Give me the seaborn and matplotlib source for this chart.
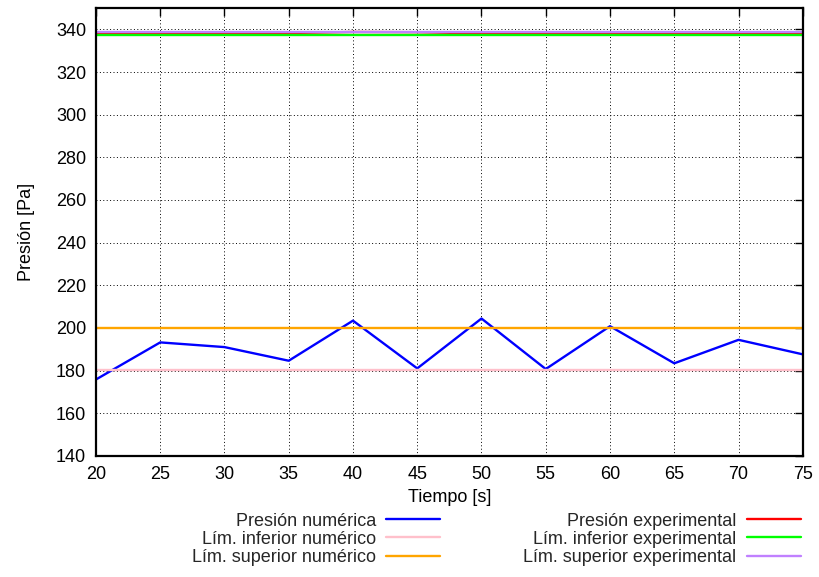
import matplotlib
matplotlib.use("Agg")
import matplotlib.pyplot as plt
import seaborn as sns
import pandas as pd

# Time samples [s]
tiempo = [20, 25, 30, 35, 40, 45, 50, 55, 60, 65, 70, 75]

# Numerical pressure and its bounds [Pa]
presion_numerica = [175.8, 193.2, 191.0, 184.6, 203.4, 181.0, 204.4, 180.7, 200.8, 183.4, 194.4, 187.6]
lim_inf_numerico = [180.3] * len(tiempo)
lim_sup_numerico = [199.8] * len(tiempo)

# Experimental pressure and its bounds [Pa]
presion_experimental = [338.3, 338.0, 337.8, 338.3, 338.8, 338.7, 338.1, 337.8, 338.0, 338.1, 338.1, 337.9]
lim_inf_experimental = [337.2] * len(tiempo)
lim_sup_experimental = [339.0] * len(tiempo)

series = [
    ("Presión numérica", presion_numerica, "#0000ff"),
    ("Lím. inferior numérico", lim_inf_numerico, "#ffc0cb"),
    ("Lím. superior numérico", lim_sup_numerico, "#ffa500"),
    ("Presión experimental", presion_experimental, "#ff0000"),
    ("Lím. inferior experimental", lim_inf_experimental, "#00ff00"),
    ("Lím. superior experimental", lim_sup_experimental, "#c080ff"),
]

FS = 13

sns.set_theme(style="white")
plt.rcParams["font.family"] = ["Liberation Sans", "DejaVu Sans"]
plt.rcParams["font.size"] = FS

fig = plt.figure(figsize=(8.2, 5.77), dpi=100)
ax = fig.add_axes([0.117, 0.21, 0.862, 0.776])

for label, values, color in series:
    df = pd.DataFrame({"t": tiempo, "p": values})
    sns.lineplot(data=df, x="t", y="p", ax=ax, color=color, linewidth=1.7,
                 label=label, legend=False)

ax.set_xlim(20, 75)
ax.set_ylim(140, 350)
ax.set_xticks(range(20, 76, 5))
ax.set_yticks(range(140, 341, 20))
ax.tick_params(axis="both", which="major", direction="in", length=6, width=1.0,
               labelsize=FS, colors="black", top=True, right=True, pad=7,
               labelcolor="black")
ax.grid(True, color="black", linestyle=(0, (1, 2.5)), linewidth=0.7)
for s in ax.spines.values():
    s.set_color("black")
    s.set_linewidth(1.6)

ax.set_xlabel("Tiempo [s]", fontsize=FS, labelpad=5, color="black")
ax.set_ylabel("Presión [Pa]", fontsize=FS, labelpad=15, color="black")

handles, labels = ax.get_legend_handles_labels()
fig.legend(handles, labels, ncol=2, markerfirst=False, frameon=False,
           loc="upper center", bbox_to_anchor=(0.6055, 0.124),
           fontsize=FS, handlelength=3.0, handletextpad=0.55,
           labelspacing=0.06, columnspacing=4.6, borderaxespad=0)

fig.savefig("out.png", dpi=100)
